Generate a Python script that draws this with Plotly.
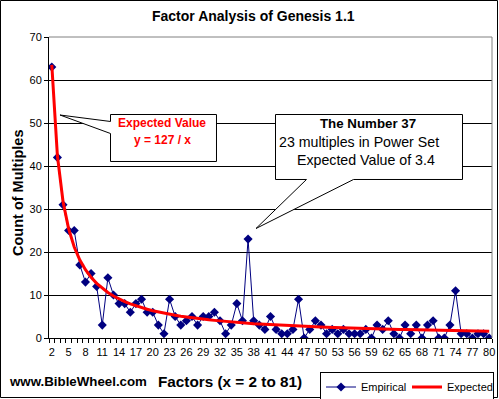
import plotly.graph_objects as go

# ---------------- data ----------------
factors = [2, 3, 4, 5, 6, 7, 8, 9, 10, 11, 12, 13, 14, 15, 16, 17, 18, 19, 20,
           21, 22, 23, 24, 25, 26, 27, 28, 29, 30, 31, 32, 33, 34, 35, 36, 37, 38,
           39, 40, 41, 42, 43, 44, 45, 46, 47, 48, 49, 50, 51, 52, 53, 54, 55, 56,
           57, 58, 59, 60, 61, 62, 63, 64, 65, 66, 67, 68, 69, 70, 71, 72, 73, 74,
           75, 76, 77, 78, 79, 80]

empirical = [63, 42, 31, 25, 25, 17, 13, 15, 12, 3, 14, 10, 8, 8, 6, 8, 9, 6, 6,
             3, 1, 9, 5, 3, 4, 5, 3, 5, 5, 6, 4, 1, 3, 8, 4, 23, 4, 3, 2, 5, 2,
             1, 1, 2, 9, 0, 2, 4, 3, 1, 2, 1, 2, 1, 1, 1, 2, 0, 3, 2, 4, 1, 0, 3,
             1, 3, 0, 3, 4, 0, 0, 3, 11, 1, 1, 0, 1, 1, 0]

expected = [63.5, 42.33, 31.75, 25.4, 21.17, 18.14, 15.88, 14.11, 12.7, 11.55,
            10.58, 9.77, 9.07, 8.47, 7.94, 7.47, 7.06, 6.68, 6.35, 6.05, 5.77,
            5.52, 5.29, 5.08, 4.88, 4.70, 4.54, 4.38, 4.23, 4.10, 3.97, 3.85,
            3.74, 3.63, 3.53, 3.43, 3.34, 3.26, 3.18, 3.10, 3.02, 2.95, 2.89,
            2.82, 2.76, 2.70, 2.65, 2.59, 2.54, 2.49, 2.44, 2.40, 2.35, 2.31,
            2.27, 2.23, 2.19, 2.15, 2.12, 2.08, 2.05, 2.02, 1.98, 1.95, 1.92,
            1.90, 1.87, 1.84, 1.81, 1.79, 1.76, 1.74, 1.72, 1.69, 1.67, 1.65,
            1.63, 1.61, 1.59]

x_tick_values = [2, 5, 8, 11, 14, 17, 20, 23, 26, 29, 32, 35, 38, 41, 44, 47,
                 50, 53, 56, 59, 62, 65, 68, 71, 74, 77, 80]
x_tick_labels = [str(v) for v in x_tick_values]
y_tick_values = [0, 10, 20, 30, 40, 50, 60, 70]

title_text = "Factor Analysis of Genesis 1.1"
y_title = "Count of Multiples"
x_title = "Factors (x = 2 to 81)"
site_text = "www.BibleWheel.com"

# ---------------- layout helpers ----------------
W, H = 499, 399
L, R, T, B = 49, 492, 37, 338
FONT = "Arial, 'Liberation Sans', sans-serif"


def px(x):
    return (x - L) / (R - L)


def py(y):
    return (B - y) / (B - T)


def path(points):
    s = "M " + " L ".join(f"{px(a):.5f},{py(b):.5f}" for a, b in points)
    return s + " Z"


fig = go.Figure()
fig.add_trace(go.Scatter(
    x=factors, y=empirical, name="Empirical", mode="lines+markers",
    line=dict(color="#000080", width=1),
    marker=dict(symbol="diamond", size=7, color="#000080"),
))
fig.add_trace(go.Scatter(
    x=factors, y=expected, name="Expected", mode="lines",
    line=dict(color="#FF0000", width=3),
))

shapes = [
    # outer chart border
    dict(type="rect", xref="paper", yref="paper",
         x0=px(0.5), x1=px(497.5), y0=py(0.5), y1=py(397.5),
         line=dict(color="black", width=1), layer="below"),
    # top / right plot border (gray)
    dict(type="line", xref="paper", yref="paper",
         x0=0, x1=1, y0=1, y1=1, line=dict(color="#808080", width=1), layer="above"),
    dict(type="line", xref="paper", yref="paper",
         x0=1, x1=1, y0=0, y1=1, line=dict(color="#808080", width=1), layer="above"),
    # callout 1
    dict(type="path", xref="paper", yref="paper",
         path=path([(110.5, 114.5), (216.5, 114.5), (216.5, 161.5), (110.5, 161.5),
                    (110.5, 133.5), (60, 115), (110.5, 121.5)]),
         line=dict(color="black", width=1), fillcolor="white", layer="above"),
    # callout 2
    dict(type="path", xref="paper", yref="paper",
         path=path([(275.5, 114.5), (462.5, 114.5), (462.5, 179.5), (353.5, 179.5),
                    (256, 228.5), (306.5, 179.5), (275.5, 179.5)]),
         line=dict(color="black", width=1), fillcolor="white", layer="above"),
]


def ann(text, x, y, size, bold=False, color="black", angle=0):
    return dict(text=f"<b>{text}</b>" if bold else text,
                xref="paper", yref="paper", x=px(x), y=py(y),
                xanchor="center", yanchor="middle", showarrow=False,
                textangle=angle,
                font=dict(family=FONT, size=size, color=color))


annotations = [
    ann(title_text, 253, 16, 14, bold=True),
    ann(y_title, 18, 193, 14.5, bold=True, angle=-90),
    ann(site_text, 78, 381, 13.3, bold=True),
    ann(x_title, 230, 381, 15.3, bold=True),
    ann("Expected Value", 162, 123, 12, bold=True, color="#FF0000"),
    ann("y = 127 / x", 162, 139.5, 12, bold=True, color="#FF0000"),
    ann("The Number 37", 368, 123, 13.3, bold=True),
    ann("23 multiples in Power Set", 359, 142, 14.2),
    ann("Expected Value of 3.4", 366, 159.5, 14.2),
]

fig.update_layout(
    width=W, height=H,
    margin=dict(l=L, r=W - R, t=T, b=H - B, pad=0, autoexpand=False),
    paper_bgcolor="white", plot_bgcolor="white",
    font=dict(family=FONT, size=11, color="black"),
    showlegend=True,
    legend=dict(orientation="h", x=px(320), y=py(371.5),
                xanchor="left", yanchor="top",
                bordercolor="black", borderwidth=1,
                font=dict(family=FONT, size=11, color="black"),
                itemwidth=30, entrywidth=41, entrywidthmode="pixels",
                tracegroupgap=0, bgcolor="white"),
    shapes=shapes,
    annotations=annotations,
    xaxis=dict(
        range=[1.5, 80.5], tickmode="array", tickvals=x_tick_values,
        ticktext=x_tick_labels, ticks="outside", ticklen=4,
        tickcolor="rgba(0,0,0,0)", showgrid=False, zeroline=False,
        showline=True, linecolor="black", linewidth=1,
        tickfont=dict(family=FONT, size=11, color="black"),
        minor=dict(ticks="outside", ticklen=4, tickcolor="black",
                   tickmode="linear", tick0=1.5, dtick=1, showgrid=False),
        fixedrange=True, automargin=False,
    ),
    yaxis=dict(
        range=[0, 70], tickmode="array", tickvals=y_tick_values,
        ticks="outside", ticklen=4, tickcolor="black",
        showgrid=True, gridcolor="black", gridwidth=1, zeroline=False,
        showline=True, linecolor="black", linewidth=1,
        tickfont=dict(family=FONT, size=11, color="black"),
        fixedrange=True, automargin=False,
    ),
)

fig.write_html(
    "out.html",
    config={"displayModeBar": False},
    post_script="document.body.style.margin='0px';document.body.style.overflow='hidden';",
)
